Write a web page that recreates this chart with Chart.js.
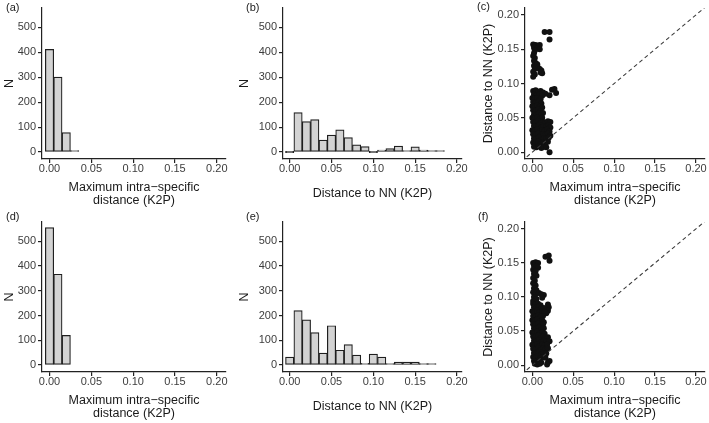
<!DOCTYPE html>
<html lang="en">
<head>
<meta charset="UTF-8" />
<title>Intra-specific distance vs distance to NN</title>
<script src="https://cdn.jsdelivr.net/npm/chart.js"></script>
<style>
  html, body { margin: 0; padding: 0; background: #fff; overflow: hidden; }
  body { width: 709px; height: 423px; position: relative; font-family: "Liberation Sans", Arial, sans-serif; }
  canvas { position: absolute; }
  .tag { position: absolute; font-size: 11px; line-height: 11px; color: #222; }
</style>
</head>
<body>

<canvas id="pa" width="232" height="210" style="left:0px;top:0px"></canvas>
<canvas id="pb" width="238" height="210" style="left:232px;top:0px"></canvas>
<canvas id="pc" width="239" height="210" style="left:470px;top:0px"></canvas>
<canvas id="pd" width="232" height="210" style="left:0px;top:213px"></canvas>
<canvas id="pe" width="238" height="210" style="left:232px;top:213px"></canvas>
<canvas id="pf" width="239" height="210" style="left:470px;top:213px"></canvas>

<span class="tag" style="left:6px;top:2px">(a)</span>
<span class="tag" style="left:246px;top:2px">(b)</span>
<span class="tag" style="left:477px;top:1px">(c)</span>
<span class="tag" style="left:6px;top:211px">(d)</span>
<span class="tag" style="left:246px;top:211px">(e)</span>
<span class="tag" style="left:478px;top:211px">(f)</span>

<script>
// ---- data ----
const xTicks = [0, 0.05, 0.10, 0.15, 0.20];
const countTicks = [0, 100, 200, 300, 400, 500];
const nnTicks = [0, 0.05, 0.10, 0.15, 0.20];

// histogram bins (centres, width 0.01)
const binsA = [0.00, 0.01, 0.02, 0.03];
const countsA = [412, 301, 78, 2];
const binsD = [0.00, 0.01, 0.02];
const countsD = [555, 367, 120];

const binsB = [0.00, 0.01, 0.02, 0.03, 0.04, 0.05, 0.06, 0.07, 0.08, 0.09,
               0.10, 0.11, 0.12, 0.13, 0.14, 0.15, 0.16, 0.17, 0.18];
const countsB = [0, 158, 122, 130, 48, 68, 89, 58, 29, 22,
                 0, 8, 14, 24, 5, 21, 8, 4, 1];
const binsE = [0.00, 0.01, 0.02, 0.03, 0.04, 0.05, 0.06, 0.07, 0.08, 0.09,
               0.10, 0.11, 0.12, 0.13, 0.14, 0.15, 0.16, 0.17];
const countsE = [32, 220, 183, 131, 48, 159, 60, 83, 40, 7,
                 44, 32, 3, 12, 12, 12, 6, 1];

// scatter: [max intra-specific, distance to NN]
const pointsC = [
  [0.015,0.175],[0.021,0.175],[0.021,0.164],
  [0.024,0.091],[0.027,0.092],[0.029,0.086],[0.021,0.083],[0.021,0.000],
  [0.001,0.157],[0.004,0.156],[0.007,0.155],[0.009,0.156],[0.002,0.152],[0.006,0.151],[0.009,0.150],[0.003,0.148],
  [0.002,0.144],[0.001,0.140],[0.003,0.137],[0.002,0.133],[0.004,0.130],[0.002,0.126],[0.005,0.125],[0.003,0.121],
  [0.001,0.117],[0.003,0.113],[0.001,0.110],
  [0.006,0.128],[0.007,0.123],[0.009,0.121],[0.011,0.119],[0.012,0.115],[0.010,0.116],
  [0.001,0.089],[0.004,0.090],[0.007,0.088],[0.010,0.089],[0.013,0.087],[0.016,0.085],
  [0.002,0.084],[0.005,0.083],[0.009,0.084],[0.012,0.082],
  [0.000,0.079],[0.003,0.078],[0.006,0.079],[0.010,0.077],
  [0.001,0.073],[0.004,0.072],[0.008,0.074],[0.011,0.071],
  [0.000,0.067],[0.003,0.066],[0.006,0.068],[0.009,0.066],[0.012,0.065],
  [0.001,0.061],[0.004,0.060],[0.007,0.062],[0.010,0.060],
  [0.002,0.055],[0.005,0.054],[0.008,0.056],[0.011,0.054],[0.013,0.057],
  [0.000,0.050],[0.003,0.049],[0.006,0.050],[0.009,0.048],[0.012,0.050],
  [0.001,0.044],[0.004,0.043],[0.007,0.045],[0.010,0.042],[0.013,0.044],[0.016,0.043],[0.019,0.045],[0.022,0.044],
  [0.002,0.038],[0.005,0.037],[0.008,0.039],[0.011,0.036],[0.014,0.038],[0.017,0.037],[0.020,0.039],[0.022,0.036],
  [0.000,0.032],[0.003,0.031],[0.006,0.033],[0.009,0.030],[0.012,0.032],[0.015,0.031],[0.018,0.033],[0.021,0.030],
  [0.001,0.026],[0.004,0.025],[0.007,0.027],[0.010,0.024],[0.013,0.026],[0.016,0.025],[0.019,0.027],[0.022,0.024],
  [0.002,0.020],[0.005,0.019],[0.008,0.021],[0.011,0.018],[0.014,0.020],[0.017,0.019],[0.020,0.021],
  [0.001,0.014],[0.004,0.013],[0.007,0.015],[0.010,0.012],[0.013,0.014],[0.016,0.013],[0.019,0.015],
  [0.002,0.008],[0.005,0.007],[0.008,0.009],[0.011,0.006],[0.014,0.008],[0.017,0.007]
];
const pointsF = [
  [0.016,0.159],[0.020,0.161],[0.021,0.153],
  [0.001,0.150],[0.004,0.151],[0.007,0.150],[0.002,0.146],[0.005,0.145],[0.007,0.143],
  [0.001,0.140],[0.004,0.138],[0.002,0.134],[0.005,0.131],[0.001,0.128],[0.003,0.124],[0.001,0.120],
  [0.004,0.117],[0.002,0.113],[0.005,0.110],[0.001,0.107],[0.004,0.104],[0.008,0.106],[0.011,0.104],
  [0.014,0.103],[0.012,0.099],[0.002,0.100],[0.005,0.097],[0.001,0.094],
  [0.001,0.090],[0.004,0.089],[0.007,0.090],[0.010,0.088],[0.019,0.089],[0.020,0.085],[0.019,0.080],[0.017,0.076],
  [0.002,0.085],[0.005,0.084],[0.008,0.085],[0.011,0.083],[0.014,0.084],
  [0.000,0.079],[0.003,0.078],[0.006,0.080],[0.009,0.078],[0.012,0.079],[0.015,0.078],
  [0.001,0.072],[0.004,0.071],[0.007,0.073],[0.010,0.070],[0.013,0.072],
  [0.000,0.066],[0.003,0.065],[0.006,0.067],[0.009,0.064],[0.012,0.066],[0.014,0.063],
  [0.001,0.060],[0.004,0.059],[0.007,0.061],[0.010,0.058],[0.013,0.060],
  [0.002,0.054],[0.005,0.053],[0.008,0.055],[0.011,0.052],[0.014,0.054],
  [0.000,0.048],[0.003,0.047],[0.006,0.049],[0.009,0.046],[0.012,0.048],[0.015,0.046],
  [0.001,0.042],[0.004,0.041],[0.007,0.043],[0.010,0.040],[0.013,0.042],[0.016,0.040],[0.019,0.041],
  [0.002,0.036],[0.005,0.035],[0.008,0.037],[0.011,0.034],[0.014,0.036],[0.017,0.035],[0.021,0.035],
  [0.000,0.030],[0.003,0.029],[0.006,0.031],[0.009,0.028],[0.012,0.030],[0.015,0.029],[0.018,0.030],
  [0.001,0.024],[0.004,0.023],[0.007,0.025],[0.010,0.022],[0.013,0.024],[0.016,0.023],[0.019,0.025],
  [0.002,0.018],[0.005,0.017],[0.008,0.019],[0.011,0.016],[0.014,0.018],[0.017,0.017],
  [0.001,0.012],[0.004,0.011],[0.007,0.013],[0.010,0.010],[0.013,0.012],[0.016,0.011],
  [0.002,0.006],[0.005,0.005],[0.008,0.007],[0.011,0.004],[0.019,0.004],[0.021,0.006],[0.018,0.001],
  [0.003,0.002],[0.006,0.001],[0.009,0.002]
];
// 1:1 reference line end values
const oneToOne = [-0.02, 0.23];

// ---- helpers ----
const FONT = '"Liberation Sans", Arial, sans-serif';
const AXIS = '#222';

function fixSize(size, horizontal) {
  return function (scale) {
    if (horizontal) scale.height = size; else scale.width = size;
    scale.paddingLeft = 0; scale.paddingRight = 0;
    scale.paddingTop = 0; scale.paddingBottom = 0;
  };
}
function useTicks(values) {
  return function (scale) { scale.ticks = values.map(v => ({ value: v })); };
}

function xAxis(min, max, title, titlePad) {
  return {
    type: 'linear', position: 'bottom', min: min, max: max, offset: false,
    afterBuildTicks: useTicks(xTicks),
    afterFit: fixSize(51, true),
    border: { display: true, color: AXIS, width: 1.2 },
    grid: { display: true, drawOnChartArea: false, tickLength: 4, lineWidth: 1.2, color: AXIS, offset: false },
    ticks: {
      color: '#3d3d3d', padding: 0, maxRotation: 0, autoSkip: false,
      font: { family: FONT, size: 11, lineHeight: 1 },
      callback: v => v.toFixed(2)
    },
    title: {
      display: true, text: title, color: '#1a1a1a',
      font: { family: FONT, size: 12.5, lineHeight: 1.05 },
      padding: { top: 0, bottom: titlePad }
    }
  };
}

function yAxis(min, max, ticks, digits, width, title, titlePad) {
  return {
    type: 'linear', position: 'left', min: min, max: max,
    afterBuildTicks: useTicks(ticks),
    afterFit: fixSize(width, false),
    border: { display: true, color: AXIS, width: 1.2 },
    grid: { display: true, drawOnChartArea: false, tickLength: 4, lineWidth: 1.2, color: AXIS },
    ticks: {
      color: '#3d3d3d', padding: 2,
      font: { family: FONT, size: 11, lineHeight: 1 },
      callback: v => v.toFixed(digits)
    },
    title: {
      display: true, text: title, color: '#1a1a1a',
      font: { family: FONT, size: 12.5, lineHeight: 1.05 },
      padding: { top: titlePad, bottom: 0 }
    }
  };
}

const twoLineX = ['Maximum intra\u2212specific', 'distance (K2P)'];

function histogram(id, bins, counts, xr, yWidth, yTitlePad, padRight, padTop, xTitle, xTitlePad) {
  new Chart(document.getElementById(id), {
    type: 'bar',
    data: {
      datasets: [{
        data: bins.map((b, i) => ({ x: b, y: counts[i] })),
        backgroundColor: '#d3d3d3',
        borderColor: '#1f1f1f',
        borderWidth: 1.2,
        borderSkipped: false,
        barPercentage: 1,
        categoryPercentage: 1,
        minBarLength: 1.5
      }]
    },
    options: {
      responsive: false, animation: false,
      layout: { padding: { top: padTop, right: padRight, left: 0, bottom: 0 } },
      plugins: { legend: { display: false }, tooltip: { enabled: false } },
      scales: {
        x: xAxis(xr[0], xr[1], xTitle, xTitlePad),
        y: yAxis(-28, 578, countTicks, 0, yWidth, 'N', yTitlePad)
      }
    }
  });
}

function scatter(id, pts, padTop) {
  new Chart(document.getElementById(id), {
    type: 'scatter',
    data: {
      datasets: [
        {
          type: 'line',
          data: oneToOne.map(v => ({ x: v, y: v })),
          borderColor: '#3a3a3a', borderWidth: 1.1, borderDash: [4, 3],
          pointRadius: 0, fill: false
        },
        {
          data: pts.map(p => ({ x: p[0], y: p[1] })),
          pointRadius: 3, pointBorderWidth: 0,
          pointBackgroundColor: '#111', backgroundColor: '#111'
        }
      ]
    },
    options: {
      responsive: false, animation: false,
      layout: { padding: { top: padTop, right: 0, left: 0, bottom: 0 } },
      plugins: { legend: { display: false }, tooltip: { enabled: false } },
      scales: {
        x: xAxis(-0.009, 0.211, twoLineX, 2.4),
        y: yAxis(-0.01, 0.21, nnTicks, 2, 55, 'Distance to NN (K2P)', 11.7)
      }
    }
  });
}

histogram('pa', binsA, countsA, [-0.009, 0.211], 42, 2.7, 6, 8, twoLineX, 2.4);
histogram('pb', binsB, countsB, [-0.008, 0.206], 51, 6.4, 8, 8, 'Distance to NN (K2P)', 9.4);
scatter('pc', pointsC, 8);
histogram('pd', binsD, countsD, [-0.009, 0.211], 42, 2.7, 6, 9, twoLineX, 2.4);
histogram('pe', binsE, countsE, [-0.008, 0.206], 51, 6.4, 8, 9, 'Distance to NN (K2P)', 9.4);
scatter('pf', pointsF, 9);
</script>
</body>
</html>
